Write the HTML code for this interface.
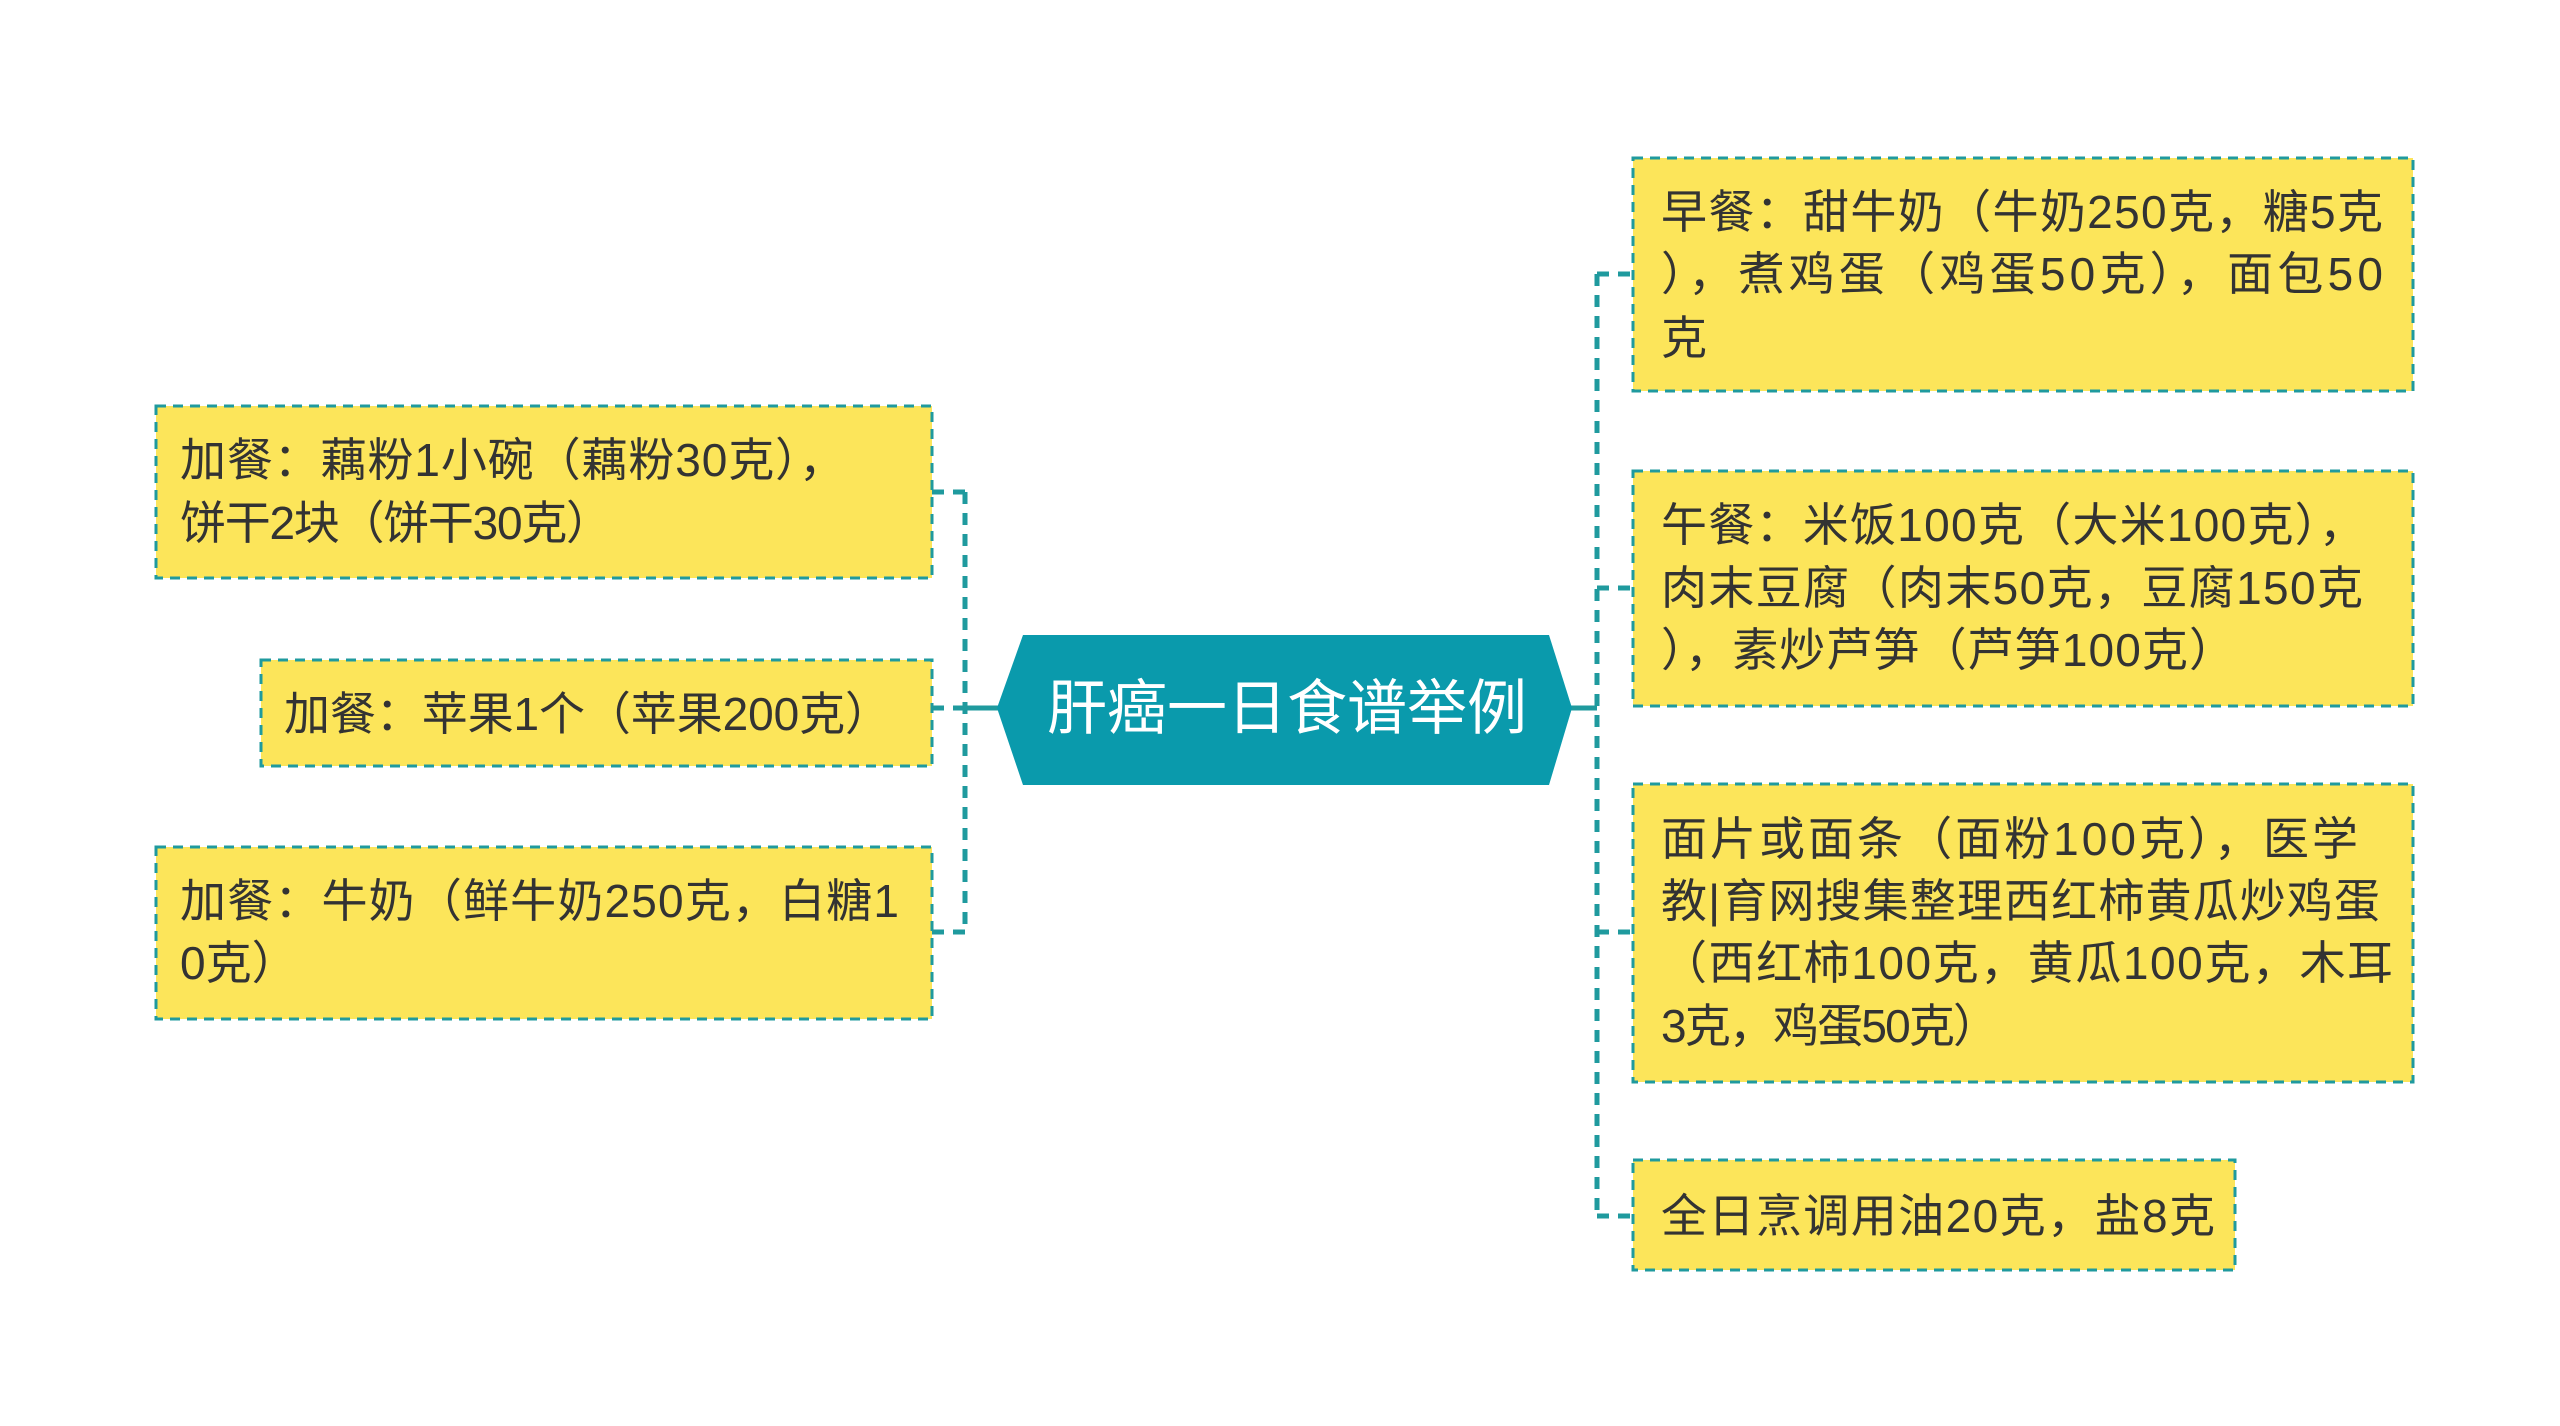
<!DOCTYPE html>
<html><head><meta charset="utf-8"><style>
html,body{margin:0;padding:0;background:#fff;}
svg text{font-family:"Liberation Sans","Noto Sans CJK SC",sans-serif;}
</style></head><body>
<svg width="2560" height="1421" viewBox="0 0 2560 1421" xmlns="http://www.w3.org/2000/svg">
<g fill="#fce55a" stroke="#1f9a9e" stroke-width="3" stroke-dasharray="10 7">
<rect x="156" y="406" width="776" height="172"/>
<rect x="261" y="660" width="671" height="106"/>
<rect x="156" y="847" width="776" height="172"/>
<rect x="1633" y="158" width="780" height="233"/>
<rect x="1633" y="471" width="780" height="235"/>
<rect x="1633" y="784" width="780" height="298"/>
<rect x="1633" y="1160" width="602" height="110"/>
</g>
<g stroke="#1f9a9e" stroke-width="5" stroke-dasharray="12 9" fill="none">
<path d="M965 492 V932"/>
<path d="M932 492 H965 M932 932 H965 M932 708 H965"/>
<path d="M1597 274 V1216"/>
<path d="M1597 274 H1633 M1597 588 H1633 M1597 932 H1633 M1597 1216 H1633"/>
</g>
<path d="M965 708 H1000 M1562 708 H1597" stroke="#1f9a9e" stroke-width="5"/>
<polygon points="997,708 1023,635 1549,635 1572,708 1549,785 1023,785" fill="#0a9aac"/>
<text x="1287" y="729" fill="#fff" font-size="60" text-anchor="middle">肝癌一日食谱举例</text>
<g fill="#333" font-size="46" lengthAdjust="spacing">
<text x="180" y="476" textLength="665">加餐：藕粉1小碗（藕粉30克），</text>
<text x="180" y="539" textLength="432">饼干2块（饼干30克）</text>
<text x="284" y="730" textLength="607">加餐：苹果1个（苹果200克）</text>
<text x="180" y="917" textLength="719">加餐：牛奶（鲜牛奶250克，白糖1</text>
<text x="180" y="979">0克）</text>
<text x="1661" y="228" textLength="722">早餐：甜牛奶（牛奶250克，糖5克</text>
<text x="1661" y="290" textLength="722">），煮鸡蛋（鸡蛋50克），面包50</text>
<text x="1661" y="354">克</text>
<text x="1661" y="541" textLength="704">午餐：米饭100克（大米100克），</text>
<text x="1661" y="604" textLength="702">肉末豆腐（肉末50克，豆腐150克</text>
<text x="1661" y="666" textLength="574">），素炒芦笋（芦笋100克）</text>
<text x="1661" y="855" textLength="697">面片或面条（面粉100克），医学</text>
<text x="1661" y="917" textLength="719">教|育网搜集整理西红柿黄瓜炒鸡蛋</text>
<text x="1661" y="979" textLength="732">（西红柿100克，黄瓜100克，木耳</text>
<text x="1661" y="1042" textLength="338">3克，鸡蛋50克）</text>
<text x="1661" y="1232" textLength="554">全日烹调用油20克，盐8克</text>
</g>
</svg>
</body></html>
